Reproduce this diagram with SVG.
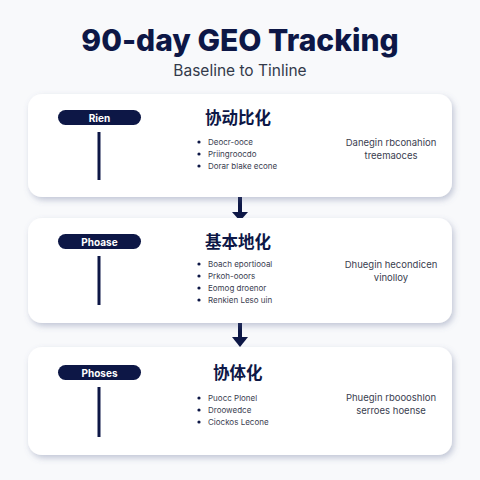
<svg xmlns="http://www.w3.org/2000/svg" width="480" height="480" viewBox="0 0 480 480">
<defs>
<filter id="sh" x="-10%" y="-20%" width="125%" height="150%">
<feDropShadow dx="2" dy="3" stdDeviation="3" flood-color="#5a6890" flood-opacity="0.35"/>
</filter>
</defs>
<style>
.card{fill:#ffffff;filter:url(#sh)}
.pill{fill:#0d1746}
.pt{font-family:Inter,"Liberation Sans",sans-serif;font-size:10px;font-weight:700;fill:#ffffff;text-anchor:middle}
.vl{stroke:#0d1746;stroke-width:3}
.ct{font-family:"Noto Sans CJK SC",sans-serif;font-size:16.5px;font-weight:700;fill:#0d1746}
.b{font-family:Inter,"Liberation Sans",sans-serif;font-size:8px;fill:#3a4050}
.dot{fill:#0d1746}
.r{font-family:Inter,"Liberation Sans",sans-serif;font-size:9.5px;fill:#3a4050;text-anchor:middle}
.ar{stroke:#0d1746;stroke-width:4}
.ah{fill:#0d1746}
</style>
<rect width="480" height="480" fill="#f8f9fb"/>
<text x="240" y="51" text-anchor="middle" font-family="Inter,'Liberation Sans',sans-serif" font-size="30" font-weight="800" fill="#0d1746">90-day GEO Tracking</text>
<text x="240" y="76" text-anchor="middle" font-family="Inter,'Liberation Sans',sans-serif" font-size="15.5" fill="#333a4a">Baseline to Tinline</text>

<g id="connectors">
<line class="ar" x1="240" y1="197" x2="240" y2="213"/>
<polygon class="ah" points="232,212 248,212 240,221"/>
<line class="ar" x1="240" y1="323" x2="240" y2="338"/>
<polygon class="ah" points="232,337 248,337 240,347"/>
</g>

<g id="node1">
<rect class="card" x="28" y="94" width="424" height="103" rx="14"/>
<rect class="pill" x="58" y="110" width="83" height="15" rx="7.5"/>
<text class="pt" x="99.5" y="121.5">Rien</text>
<line class="vl" x1="99" y1="132" x2="99" y2="180"/>
<text class="ct" x="205" y="124">协动比化</text>
<circle class="dot" cx="199" cy="142" r="1.6"/><text class="b" x="208" y="145">Deocr-ooce</text>
<circle class="dot" cx="199" cy="154" r="1.6"/><text class="b" x="208" y="157">Priingroocdo</text>
<circle class="dot" cx="199" cy="166" r="1.6"/><text class="b" x="208" y="169">Dorar blake econe</text>
<text class="r" x="391" y="146">Danegin rbconahion</text>
<text class="r" x="391" y="159">treemaoces</text>
</g>

<g id="node2">
<rect class="card" x="28" y="218" width="424" height="105" rx="14"/>
<rect class="pill" x="58" y="234" width="83" height="15" rx="7.5"/>
<text class="pt" x="99.5" y="245.5">Phoase</text>
<line class="vl" x1="99" y1="256" x2="99" y2="305"/>
<text class="ct" x="205" y="248">基本地化</text>
<circle class="dot" cx="199" cy="264" r="1.6"/><text class="b" x="208" y="267">Boach eportiooal</text>
<circle class="dot" cx="199" cy="276" r="1.6"/><text class="b" x="208" y="279">Prkoh-ooors</text>
<circle class="dot" cx="199" cy="288" r="1.6"/><text class="b" x="208" y="291">Eomog droenor</text>
<circle class="dot" cx="199" cy="300" r="1.6"/><text class="b" x="208" y="303">Renkien Leso uin</text>
<text class="r" x="391" y="268">Dhuegin hecondicen</text>
<text class="r" x="391" y="281">vinolloy</text>
</g>

<g id="node3">
<rect class="card" x="28" y="347" width="424" height="108" rx="14"/>
<rect class="pill" x="58" y="365" width="83" height="15" rx="7.5"/>
<text class="pt" x="99.5" y="376.5">Phoses</text>
<line class="vl" x1="99" y1="387" x2="99" y2="437"/>
<text class="ct" x="213" y="379">协体化</text>
<circle class="dot" cx="199" cy="398" r="1.6"/><text class="b" x="208" y="401">Puocc Plonel</text>
<circle class="dot" cx="199" cy="410" r="1.6"/><text class="b" x="208" y="413">Droowedce</text>
<circle class="dot" cx="199" cy="422" r="1.6"/><text class="b" x="208" y="425">Ciockos Lecone</text>
<text class="r" x="391" y="401">Phuegin rboooshlon</text>
<text class="r" x="391" y="414">serroes hoense</text>
</g>
</svg>
